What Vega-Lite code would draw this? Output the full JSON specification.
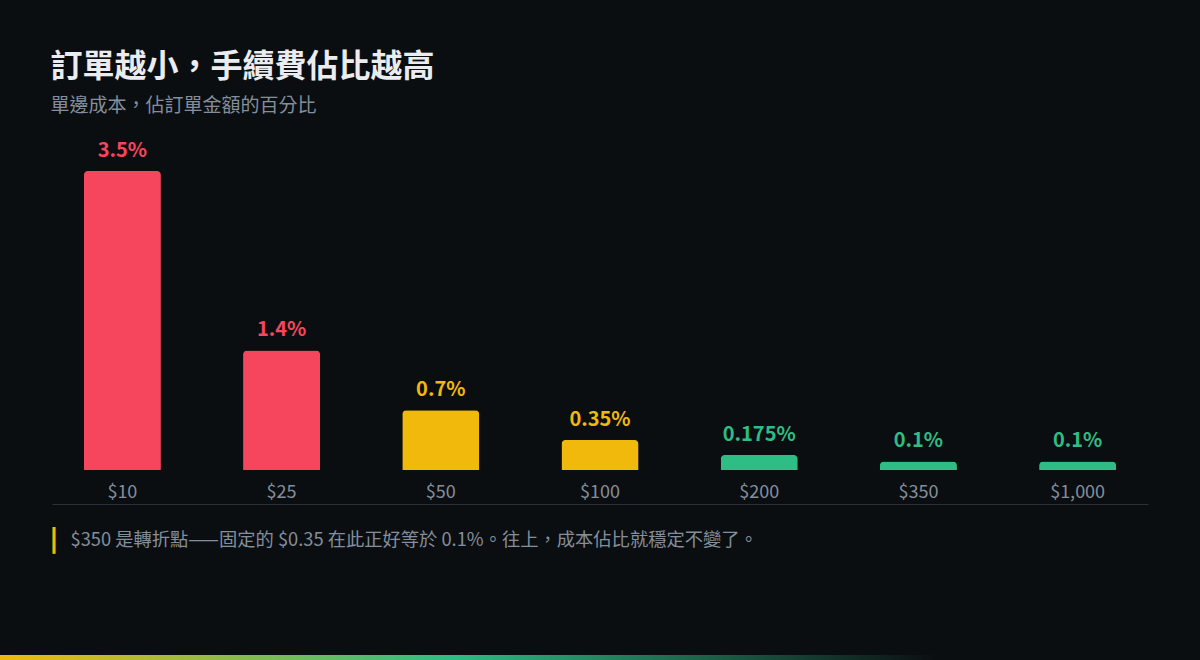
{
  "$schema": "https://vega.github.io/schema/vega-lite/v6.json",
  "background": "#0b0e11",
  "padding": {"left": 0, "right": 0, "top": 51, "bottom": 0},
  "spacing": 185,
  "bounds": "flush",
  "center": true,
  "config": {
    "view": {"stroke": null},
    "font": "Noto Sans CJK TC"
  },
  "vconcat": [
    {
      "width": 1096,
      "height": 299,
      "title": {
        "text": "訂單越小，手續費佔比越高",
        "subtitle": "單邊成本，佔訂單金額的百分比",
        "anchor": "start",
        "dx": 2,
        "font": "Noto Sans CJK TC",
        "fontSize": 32,
        "fontWeight": "bold",
        "color": "#eaecef",
        "subtitleFont": "Noto Sans CJK TC",
        "subtitleFontSize": 19,
        "subtitleColor": "#848e9c",
        "subtitlePadding": 13,
        "offset": 24
      },
      "data": {
        "values": [
          {"order": "$10", "pct": 3.5, "label": "3.5%", "tier": "high"},
          {"order": "$25", "pct": 1.4, "label": "1.4%", "tier": "high"},
          {"order": "$50", "pct": 0.7, "label": "0.7%", "tier": "mid"},
          {"order": "$100", "pct": 0.35, "label": "0.35%", "tier": "mid"},
          {"order": "$200", "pct": 0.175, "label": "0.175%", "tier": "low"},
          {"order": "$350", "pct": 0.1, "label": "0.1%", "tier": "low"},
          {"order": "$1,000", "pct": 0.1, "label": "0.1%", "tier": "low"}
        ]
      },
      "encoding": {
        "x": {
          "field": "order",
          "type": "nominal",
          "sort": null,
          "scale": {"paddingInner": 0.516, "paddingOuter": 0.2},
          "axis": {
            "labelAngle": 0,
            "labelFont": "Noto Sans CJK TC",
            "labelFontSize": 18,
            "labelColor": "#848e9c",
            "labelBaseline": "middle",
            "labelPadding": -12,
            "ticks": false,
            "domain": true,
            "domainColor": "#2b3139",
            "domainWidth": 1,
            "offset": 34,
            "grid": false,
            "title": "$350 是轉折點——固定的 $0.35 在此正好等於 0.1%。往上，成本佔比就穩定不變了。",
            "titleFont": "Noto Sans CJK TC",
            "titleFontSize": 18.3,
            "titleFontWeight": "normal",
            "titleColor": "#848e9c",
            "titleAnchor": "start",
            "titleAlign": "left",
            "titleBaseline": "middle",
            "titleX": 18,
            "titleY": 36
          }
        },
        "y": {
          "field": "pct",
          "type": "quantitative",
          "scale": {"domain": [0, 3.5], "nice": false},
          "axis": {
            "domain": false,
            "ticks": false,
            "labels": false,
            "grid": false,
            "title": "|",
            "titleFont": "DejaVu Sans",
            "titleFontWeight": "bold",
            "titleFontSize": 27,
            "titleColor": "#f0b90b",
            "titleAngle": 0,
            "titleAlign": "center",
            "titleBaseline": "middle",
            "titleX": 1.5,
            "titleY": 367
          }
        },
        "color": {
          "field": "tier",
          "type": "nominal",
          "scale": {"domain": ["high", "mid", "low"], "range": ["#f6465d", "#f0b90b", "#2ebd85"]},
          "legend": null
        }
      },
      "layer": [
        {"mark": {"type": "bar", "cornerRadiusTopLeft": 4, "cornerRadiusTopRight": 4}},
        {
          "mark": {"type": "text", "baseline": "alphabetic", "dy": -14, "fontSize": 20, "fontWeight": 600, "font": "Noto Sans CJK TC"},
          "encoding": {"text": {"field": "label"}}
        }
      ]
    },
    {
      "width": 1200,
      "height": 5,
      "data": {"values": [{}]},
      "mark": {
        "type": "rect",
        "color": {
          "gradient": "linear",
          "x1": 0, "x2": 1, "y1": 0, "y2": 0,
          "stops": [
            {"offset": 0, "color": "#f0b90b"},
            {"offset": 0.375, "color": "#2ebd85"},
            {"offset": 0.78, "color": "#0b0e11"},
            {"offset": 1, "color": "#0b0e11"}
          ]
        }
      },
      "encoding": {}
    }
  ]
}
